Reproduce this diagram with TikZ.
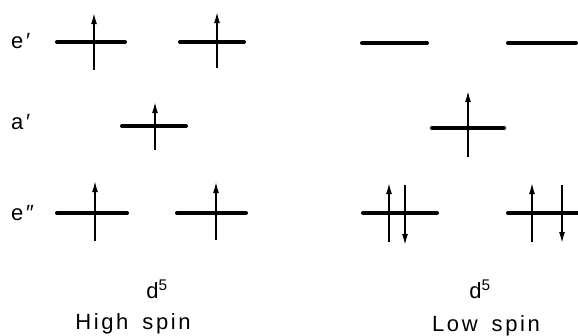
\documentclass[tikz,border=0pt]{standalone}
\usepackage{fontspec}
\setmainfont{Liberation Sans}[LetterSpace=12, WordSpace=1.6]
\usetikzlibrary{arrows.meta}
\begin{document}
\begin{tikzpicture}[x=1pt,y=-1pt,
  level/.style={line width=4pt, line cap=round},
  spin/.style={line width=1.5pt, -{Latex[length=11pt,width=6pt]}},
  lab/.style={font=\fontsize{22}{26}\selectfont, inner sep=0pt}]
\useasboundingbox (0,0) rectangle (578,335);
% labels
\node[lab, anchor=base west] (ep) at (11,48) {e′};
\node[lab, anchor=base west] (ap) at (11,129) {a′};
\node[lab, anchor=base west] (epp) at (11,220) {e″};
% high spin
\draw[level] (57,42) -- (125,42);
\draw[level] (180,42) -- (244,42);
\draw[level] (122,126) -- (186,126);
\draw[level] (57,213) -- (127,213);
\draw[level] (177,213) -- (246,213);
\draw[spin] (94,70) -- (94,13);
\draw[spin] (217,68) -- (217,12);
\draw[spin] (155,150) -- (155,102);
\draw[spin] (95,241) -- (95,181);
\draw[spin] (216,240) -- (216,182);
% low spin
\draw[level] (362,43) -- (427,43);
\draw[level] (508,43) -- (576,43);
\draw[level] (432,128) -- (504,128);
\draw[level] (363,213) -- (437,213);
\draw[level] (508,213) -- (578,213);
\draw[spin] (468,157) -- (468,91);
\draw[spin] (389,242) -- (389,183);
\draw[spin] (405,185) -- (405,245);
\draw[spin] (532,242) -- (532,183);
\draw[spin] (562,185) -- (562,243);
% captions
\node[lab, anchor=base] (d1) at (157,298) {d\textsuperscript{5}};
\node[lab, anchor=base] (hs) at (133,329) {High spin};
\node[lab, anchor=base] (d2) at (480,298) {d\textsuperscript{5}};
\node[lab, anchor=base] (ls) at (486,331) {Low spin};
\end{tikzpicture}
\end{document}
